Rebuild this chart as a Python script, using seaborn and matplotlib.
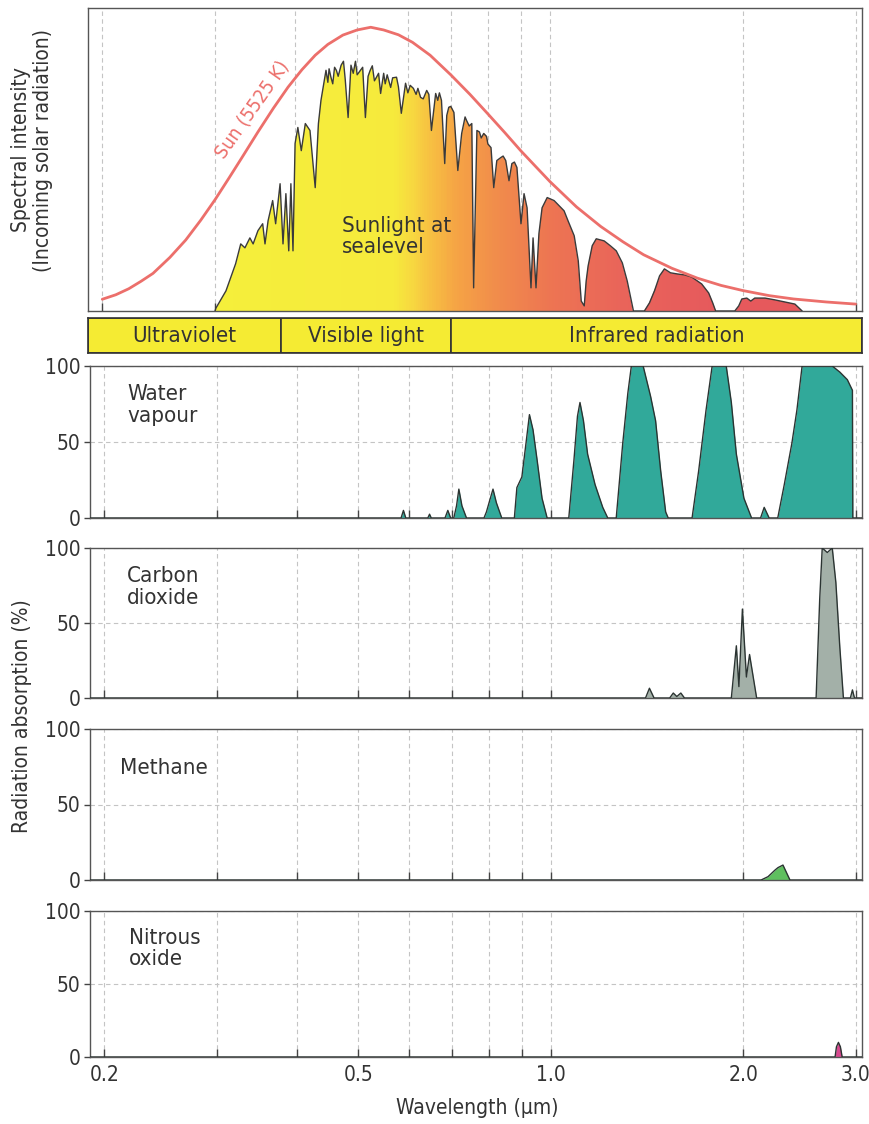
import numpy as np
import matplotlib
matplotlib.use("Agg")
import matplotlib.pyplot as plt
import seaborn as sns
from matplotlib.colors import LinearSegmentedColormap, Normalize
from matplotlib.ticker import FixedLocator, NullFormatter

# ---- data ----
# blackbody curve of the sun (arbitrary intensity units)
sun_wl = [0.200, 0.210, 0.220, 0.230, 0.240, 0.255, 0.270, 0.285, 0.300, 0.315,
          0.330, 0.350, 0.370, 0.390, 0.410, 0.430, 0.450, 0.475, 0.500, 0.525,
          0.550, 0.580, 0.610, 0.650, 0.700, 0.750, 0.800, 0.850, 0.900, 0.950,
          1.000, 1.100, 1.200, 1.300, 1.400, 1.550, 1.700, 1.850, 2.000, 2.200,
          2.400, 2.700, 3.000]
sun_int = [3.9, 5.4, 7.4, 9.9, 12.5, 17.8, 23.6, 30.2, 37.0, 44.0,
           50.8, 59.5, 67.4, 74.4, 80.2, 85.0, 88.6, 91.7, 93.4, 94.3,
           93.4, 91.8, 89.3, 85.0, 78.5, 72.0, 65.5, 59.3, 53.3, 48.0,
           43.0, 34.6, 28.1, 23.0, 18.7, 14.2, 10.9, 8.5, 6.8, 5.1,
           4.0, 3.0, 2.3]

# sunlight at sea level
sea_wl = [0.300, 0.301, 0.312, 0.323, 0.329, 0.334, 0.340, 0.344, 0.350, 0.356,
          0.359, 0.363, 0.369, 0.373, 0.379, 0.383, 0.387, 0.391, 0.394, 0.397,
          0.400, 0.404, 0.409, 0.415, 0.422, 0.430, 0.435, 0.439, 0.447, 0.450,
          0.452, 0.455, 0.458, 0.461, 0.464, 0.467, 0.472, 0.476, 0.479, 0.484,
          0.489, 0.493, 0.497, 0.500, 0.506, 0.510, 0.515, 0.520, 0.524, 0.528,
          0.532, 0.536, 0.540, 0.544, 0.550, 0.553, 0.557, 0.564, 0.568, 0.576,
          0.580, 0.586, 0.595, 0.600, 0.605, 0.612, 0.618, 0.622, 0.628, 0.634,
          0.642, 0.647, 0.653, 0.663, 0.668, 0.672, 0.677, 0.685, 0.690, 0.695,
          0.700, 0.708, 0.718, 0.728, 0.733, 0.737, 0.741, 0.748, 0.755, 0.760,
          0.769, 0.776, 0.781, 0.788, 0.796, 0.800, 0.809, 0.817, 0.826, 0.838,
          0.845, 0.853, 0.863, 0.872, 0.880, 0.888, 0.901, 0.911, 0.921, 0.934,
          0.941, 0.951, 0.961, 0.972, 0.990, 1.015, 1.052, 1.067, 1.091, 1.107,
          1.119, 1.131, 1.139, 1.147, 1.164, 1.181, 1.215, 1.242, 1.269, 1.297,
          1.320, 1.335, 1.350, 1.404, 1.430, 1.456, 1.483, 1.509, 1.542, 1.582,
          1.622, 1.664, 1.725, 1.769, 1.795, 1.814, 1.943, 1.971, 1.993, 2.029,
          2.058, 2.088, 2.166, 2.244, 2.328, 2.412, 2.476]
sea_int = [0.0, 1.0, 6.7, 15.7, 22.3, 21.0, 24.3, 22.3, 26.7, 29.0,
           22.3, 30.0, 36.7, 29.0, 42.3, 22.3, 39.0, 20.0, 42.3, 20.0,
           55.7, 61.0, 53.3, 62.3, 60.0, 41.0, 62.3, 70.0, 80.0, 76.0,
           80.5, 77.7, 75.5, 81.0, 80.0, 78.0, 81.7, 83.0, 77.0, 64.3,
           81.7, 79.0, 83.0, 78.5, 80.0, 81.0, 64.3, 78.0, 80.0, 81.5,
           76.5, 77.7, 79.0, 72.3, 79.0, 75.5, 78.5, 74.3, 77.5, 77.7,
           74.5, 65.7, 75.7, 72.5, 75.0, 74.0, 72.0, 74.0, 71.0, 70.5,
           73.3, 72.0, 60.0, 72.3, 70.0, 72.5, 70.0, 49.0, 65.0, 67.7,
           68.0, 66.0, 46.7, 59.0, 62.0, 64.5, 63.3, 61.5, 62.3, 7.7,
           60.0, 59.5, 57.5, 59.0, 58.0, 55.5, 54.3, 41.0, 50.0, 51.0,
           51.5, 50.0, 43.3, 49.0, 49.5, 47.7, 29.0, 39.0, 34.3, 7.7,
           24.3, 7.7, 25.7, 34.3, 37.7, 36.7, 33.3, 30.0, 25.0, 16.7,
           3.3, 1.7, 10.0, 15.0, 21.7, 24.0, 23.3, 21.7, 20.0, 16.0,
           10.0, 5.0, 0.0, 0.0, 2.7, 6.7, 11.7, 14.0, 12.7, 12.3,
           12.0, 11.3, 9.0, 6.0, 2.7, 0.0, 0.0, 1.7, 4.0, 4.3,
           3.3, 4.3, 4.3, 3.7, 3.0, 2.3, 0.0]

band_names = ["Ultraviolet", "Visible light", "Infrared radiation"]
band_edges = [0.19, 0.38, 0.70, 3.07]

h2o_wl = [0.19, 0.583, 0.588, 0.593, 0.642, 0.646, 0.650, 0.683, 0.690, 0.697,
          0.705, 0.712, 0.718, 0.726, 0.738, 0.786, 0.793, 0.803, 0.812, 0.822,
          0.838, 0.877, 0.885, 0.901, 0.912, 0.926, 0.938, 0.952, 0.969, 0.987,
          1.067, 1.087, 1.101, 1.111, 1.125, 1.142, 1.173, 1.206, 1.228,
          1.266, 1.296, 1.320, 1.337, 1.395, 1.433, 1.459, 1.486, 1.513, 1.527,
          1.664, 1.704, 1.750, 1.789, 1.882, 1.917, 1.952, 2.006, 2.062,
          2.130, 2.158, 2.197, 2.266, 2.320, 2.384, 2.428, 2.474, 2.758, 2.834,
          2.912, 2.966, 2.970, 3.07]
h2o_abs = [0, 0, 5, 0, 0, 2.5, 0, 0, 5, 0,
           0, 8, 19, 8, 0, 0, 4, 12, 19, 10,
           0, 0, 20, 27, 45, 68, 58, 38, 13, 0,
           0, 38, 67, 76, 64, 42, 22, 7, 0,
           0, 49, 82, 100, 100, 80, 64, 31, 4, 0,
           0, 31, 71, 100, 100, 76, 42, 13, 0,
           0, 7, 0, 0, 22, 49, 71, 100, 100, 96,
           91, 84, 0, 0]

co2_wl = [0.19, 1.407, 1.427, 1.451, 1.535, 1.555, 1.575, 1.598, 1.619,
          1.917, 1.952, 1.970, 1.995, 2.024, 2.047, 2.100,
          2.602, 2.636, 2.660, 2.709, 2.758, 2.794, 2.834, 2.871,
          2.944, 2.966, 2.988, 3.07]
co2_abs = [0, 0, 6.5, 0, 0, 3.3, 1, 3.3, 0,
           0, 34.8, 7.6, 59.3, 14, 29, 0,
           0, 66, 100, 97, 100, 77, 34, 0,
           0, 5.4, 0, 0]

ch4_wl = [0.19, 2.134, 2.188, 2.244, 2.268, 2.309, 2.335, 2.368, 3.07]
ch4_abs = [0, 0, 2.2, 6.6, 8.2, 9.9, 5.5, 0, 0]

n2o_wl = [0.19, 2.786, 2.800, 2.820, 2.840, 2.858, 3.07]
n2o_abs = [0, 0, 7, 10, 7, 0, 0]

gas_names = ["Water\nvapour", "Carbon\ndioxide", "Methane", "Nitrous\noxide"]
gas_colors = ["#31a99a", "#a3b0a8", "#5fbf5f", "#d8488f"]
gas_data = [(h2o_wl, h2o_abs), (co2_wl, co2_abs), (ch4_wl, ch4_abs), (n2o_wl, n2o_abs)]

major_ticks = [0.2, 0.5, 1.0, 2.0, 3.0]
major_labels = ["0.2", "0.5", "1.0", "2.0", "3.0"]
minor_ticks = [0.3, 0.4, 0.6, 0.7, 0.8, 0.9]

# gradient stops of the sunlight fill
grad_wl = [0.30, 0.57, 0.61, 0.66, 0.72, 0.82, 1.00, 1.30, 1.80, 2.50]
grad_col = ["#f5ef3b", "#f6ea3c", "#f7d740", "#f7bb42", "#f5a245",
            "#f18d4b", "#ed7552", "#e9645a", "#e65a5c", "#e6585c"]

XLIM = (0.19, 3.07)
TXT = "#333333"
GRID = dict(color="#c4c4c4", linestyle=(0, (4, 3)), linewidth=0.8)

sns.set_theme(style="white")
plt.rcParams["font.family"] = ["DejaVu Sans"]
plt.rcParams["font.stretch"] = "condensed"

W, H = 870, 1124
fig = plt.figure(figsize=(W / 100, H / 100), dpi=100)


def box(l, t, r, b):
    return [l / W, 1 - b / H, (r - l) / W, (b - t) / H]


def style_x(ax, labels=False):
    ax.set_xscale("log")
    ax.set_xlim(*XLIM)
    ax.xaxis.set_major_locator(FixedLocator(major_ticks))
    ax.xaxis.set_minor_locator(FixedLocator(minor_ticks))
    ax.xaxis.set_minor_formatter(NullFormatter())
    if labels:
        ax.set_xticklabels(major_labels)
    else:
        ax.set_xticklabels([])
    ax.tick_params(axis="x", which="both", direction="in", length=6, width=1,
                   color="#444444", bottom=True, labelsize=15, labelcolor=TXT, pad=6)
    ax.grid(axis="x", which="both", **GRID)
    for s in ax.spines.values():
        s.set_color("#555555")
        s.set_linewidth(1.0)


# ---- top panel: spectral intensity ----
ax = fig.add_axes(box(88, 8, 862, 311))
style_x(ax)
ax.set_ylim(0, 100.7)
ax.set_yticks([])

pos = (np.log10(grad_wl) - np.log10(grad_wl[0])) / (np.log10(grad_wl[-1]) - np.log10(grad_wl[0]))
cmap = LinearSegmentedColormap.from_list("sun", list(zip(pos, grad_col)))
xe = np.geomspace(0.295, 2.55, 500)
xc = np.sqrt(xe[:-1] * xe[1:])
mesh = ax.pcolormesh(xe, [0, 100], np.log10(xc)[np.newaxis, :], cmap=cmap,
                     norm=Normalize(np.log10(grad_wl[0]), np.log10(grad_wl[-1])),
                     shading="flat", zorder=1, rasterized=True)
fb = ax.fill_between(sea_wl, 0, sea_int, color="none", linewidth=0)
mesh.set_clip_path(fb.get_paths()[0], ax.transData)

sns.lineplot(x=sea_wl, y=sea_int, ax=ax, color="#3a3a3a", linewidth=1.0,
             sort=False, estimator=None, zorder=3)
sns.lineplot(x=sun_wl, y=sun_int, ax=ax, color="#ec6f6b", linewidth=2.0,
             sort=False, estimator=None, zorder=4)
ax.text(0.343, 67, "Sun (5525 K)", rotation=55, color="#ec6f6b", fontsize=14,
        ha="center", va="center")
ax.text(0.474, 24.7, "Sunlight at\nsealevel", color=TXT, fontsize=16,
        ha="left", va="center", linespacing=1.05)

# ---- band bar ----
axb = fig.add_axes(box(88, 318, 862, 353))
axb.set_xscale("log")
axb.set_xlim(*XLIM)
axb.set_ylim(0, 1)
axb.set_xticks([])
axb.set_yticks([])
axb.xaxis.set_minor_locator(FixedLocator([]))
for name, lo, hi in zip(band_names, band_edges[:-1], band_edges[1:]):
    axb.axvspan(lo, hi, facecolor="#f5eb33", edgecolor="#333333", linewidth=1.2)
    axb.text(np.sqrt(lo * hi), 0.5, name, ha="center", va="center",
             fontsize=16, color=TXT)
for s in axb.spines.values():
    s.set_color("#333333")
    s.set_linewidth(1.2)

# ---- absorption panels ----
gas_boxes = [(366, 518), (548, 698), (729, 880), (911, 1057)]
label_pos = [(0.048, 0.88, "top"), (0.048, 0.88, "top"), (0.039, 0.742, "center"), (0.050, 0.885, "top")]
for i, ((t, b), name, col, (wl, ab), lp) in enumerate(
        zip(gas_boxes, gas_names, gas_colors, gas_data, label_pos)):
    axg = fig.add_axes(box(90, t, 862, b))
    style_x(axg, labels=(i == 3))
    axg.set_ylim(0, 100)
    axg.set_yticks([0, 50, 100])
    axg.set_yticklabels(["0", "50", "100"])
    axg.tick_params(axis="y", direction="out", length=4, width=1, color="#444444",
                    left=True, labelsize=15, labelcolor=TXT, pad=3)
    axg.grid(axis="y", **GRID)
    axg.fill_between(wl, 0, ab, color=col, linewidth=0, zorder=2)
    sns.lineplot(x=wl, y=ab, ax=axg, color="#2b3432", linewidth=1.0,
                 sort=False, estimator=None, zorder=3)
    axg.text(lp[0], lp[1], name, transform=axg.transAxes, ha="left", va=lp[2],
             fontsize=16, color=TXT, linespacing=1.1)

fig.text(32 / W, 1 - 150 / H, "Spectral intensity\n(Incoming solar radiation)",
         rotation=90, ha="center", va="center", fontsize=15, color=TXT,
         multialignment="center", linespacing=1.1)
fig.text(22 / W, 1 - 716 / H, "Radiation absorption (%)", rotation=90,
         ha="center", va="center", fontsize=15, color=TXT)
fig.text(477 / W, 1 - 1108 / H, "Wavelength (µm)", ha="center", va="center",
         fontsize=15, color=TXT)

fig.savefig("out.png", dpi=100)
